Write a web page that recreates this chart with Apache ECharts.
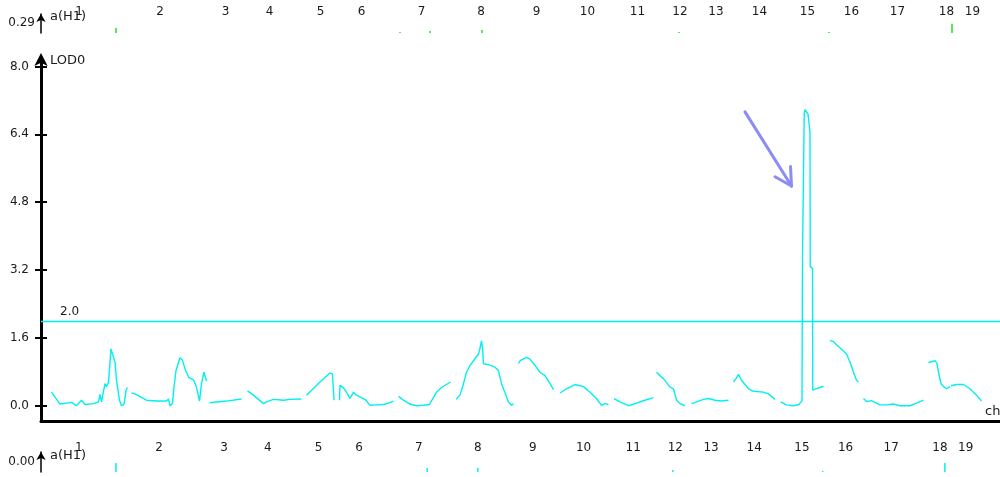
<!DOCTYPE html>
<html><head><meta charset="utf-8">
<script src="https://cdn.jsdelivr.net/npm/echarts@6/dist/echarts.min.js"></script>
<style>html,body{margin:0;padding:0;background:#fff}#c{width:1000px;height:477px}</style>
</head><body><div id="c"></div>
<script>
// ---- data (positions in cM along the genome, LOD values) ----
const chrNames = ['1','2','3','4','5','6','7','8','9','10','11','12','13','14','15','16','17','18','19'];
const chrLabelPos = [76,238,369,457,559,641,761,880,991,1093,1193,1278,1350,1437,1533,1621,1713,1811,1863];
const lodTicks = [0, 1.6, 3.2, 4.8, 6.4, 8.0];
const threshold = 2.0;

const lod_chr1 = [[21,0.32],[38,0.04],[61,0.08],[71,0.0],[81,0.13],[88,0.03],[105,0.05],[115,0.09],[118,0.27],[121,0.09],[128,0.52],[131,0.45],[135,0.55],[140,1.34],[143,1.30],[148,1.03],[151,0.60],[157,0.13],[161,0.0],[166,0.03],[170,0.36],[173,0.43]];
const lod_chr2 = [[181,0.30],[188,0.28],[211,0.13],[231,0.11],[251,0.11],[255,0.16],[258,0.0],[263,0.06],[266,0.44],[270,0.83],[278,1.13],[283,1.07],[288,0.87],[295,0.67],[299,0.68],[305,0.61],[311,0.44],[317,0.11],[321,0.52],[326,0.79],[329,0.75],[331,0.58]];
const lod_chr3 = [[337,0.07],[371,0.11],[401,0.16]];
const lod_chr4 = [[413,0.35],[425,0.25],[445,0.05],[451,0.09],[465,0.15],[485,0.13],[498,0.15],[521,0.16]];
const lod_chr5 = [[531,0.25],[558,0.56],[578,0.77],[583,0.75],[586,0.13]];
const lod_chr6 = [[597,0.13],[598,0.48],[605,0.42],[611,0.32],[618,0.17],[625,0.32],[631,0.25],[641,0.19],[645,0.19],[650,0.13],[658,0.01],[671,0.02],[685,0.03],[695,0.06],[705,0.11]];
const lod_chr7 = [[715,0.22],[725,0.13],[738,0.04],[751,0.0],[765,0.01],[777,0.03],[778,0.06],[791,0.32],[801,0.43],[819,0.56]];
const lod_chr8 = [[830,0.15],[838,0.25],[845,0.52],[851,0.79],[858,0.95],[865,1.06],[875,1.22],[877,1.30],[881,1.53],[883,1.37],[885,0.99],[895,0.97],[908,0.91],[915,0.83],[921,0.52],[930,0.25],[935,0.09],[941,0.01],[945,0.05]];
const lod_chr9 = [[955,1.0],[959,1.07],[971,1.14],[978,1.10],[988,0.95],[998,0.79],[1008,0.71],[1018,0.52],[1025,0.38]];
const lod_chr10 = [[1038,0.30],[1051,0.40],[1068,0.50],[1085,0.45],[1098,0.32],[1111,0.17],[1121,0.01],[1128,0.05],[1135,0.03]];
const lod_chr11 = [[1146,0.17],[1158,0.09],[1175,0.0],[1191,0.06],[1208,0.13],[1225,0.19]];
const lod_chr12 = [[1231,0.79],[1238,0.71],[1245,0.64],[1248,0.60],[1258,0.44],[1265,0.40],[1271,0.13],[1278,0.05],[1288,0.0]];
const lod_chr13 = [[1301,0.05],[1311,0.09],[1325,0.15],[1335,0.17],[1348,0.13],[1361,0.11],[1375,0.13]];
const lod_chr14 = [[1385,0.56],[1390,0.64],[1395,0.74],[1401,0.60],[1415,0.40],[1425,0.34],[1445,0.32],[1455,0.28],[1468,0.15]];
const lod_chr15 = [[1479,0.09],[1491,0.02],[1505,0.0],[1516,0.03],[1522,0.12],[1523,3.56],[1526,3.58],[1526.5,6.90],[1528,6.98],[1530,6.97],[1534,6.88],[1538,6.45],[1538.5,3.28],[1543,3.24],[1543.5,0.37],[1548,0.39],[1565,0.46]];
const lod_chr16 = [[1578,1.54],[1585,1.51],[1591,1.44],[1601,1.33],[1611,1.22],[1618,1.03],[1625,0.79],[1631,0.60],[1635,0.56]];
const lod_chr17 = [[1645,0.17],[1651,0.10],[1661,0.12],[1678,0.02],[1691,0.02],[1705,0.04],[1718,0.0],[1738,0.0],[1751,0.06],[1765,0.13]];
const lod_chr18 = [[1775,1.02],[1788,1.06],[1792,1.0],[1795,0.79],[1800,0.52],[1805,0.45],[1811,0.40],[1818,0.45]];
const lod_chr19 = [[1820,0.47],[1831,0.50],[1845,0.50],[1858,0.40],[1871,0.25],[1881,0.11]];

// additive effect strip a(H1) marks: [position, low, high]
const topEffectMarks = [[150,0,0.15],[718,0,0.03],[778,0,0.06],[882,0,0.09],[1276,0,0.03],[1576,0,0.03],[1822,0,0.27]];
const bottomEffectMarks = [[151,-0.3,-0.03],[778,-0.3,-0.18],[880,-0.3,-0.18],[1273,-0.3,-0.24],[1575,-0.3,-0.27],[1821,-0.3,-0.03]];

// annotation arrow pointing to the chr15 peak (data coordinates)
const arrowTail = [1408, 6.93];
const arrowTip = [1501, 5.18];
const arrowArmA = [1468, 5.40];
const arrowArmB = [1499, 5.64];

// ---- build ----
const lodByChr = [lod_chr1,lod_chr2,lod_chr3,lod_chr4,lod_chr5,lod_chr6,lod_chr7,lod_chr8,lod_chr9,lod_chr10,lod_chr11,lod_chr12,lod_chr13,lod_chr14,lod_chr15,lod_chr16,lod_chr17,lod_chr18,lod_chr19];
const curve = [];
lodByChr.forEach(seg => { seg.forEach(p => curve.push(p)); curve.push([seg[seg.length-1][0], '-']); });
function marksToLine(marks){ const d=[]; marks.forEach(m=>{d.push([m[0],m[1]]);d.push([m[0],m[2]]);d.push([m[0],'-']);}); return d; }

const XMAX = 1918;
const FONT = 'DejaVu Sans';
const TXT = '#1a1a1a';
const chrFmt = v => { const i = chrLabelPos.indexOf(v); return i >= 0 ? chrNames[i] : ''; };

const chart = echarts.init(document.getElementById('c'), null, {renderer:'canvas'});
chart.setOption({
  animation: false,
  backgroundColor: '#fff',
  grid: [
    {left: 41, right: 0, top: 14, height: 19, outerBoundsMode:'none', containLabel:false},
    {left: 41, right: 0, top: 58, bottom: 56, outerBoundsMode:'none', containLabel:false},
    {left: 41, right: 7, top: 452, height: 20, outerBoundsMode:'none', containLabel:false}
  ],
  xAxis: [
    {gridIndex:0, type:'value', min:0, max:XMAX, position:'top', offset:-6,
     axisLine:{show:false}, axisTick:{show:false}, splitLine:{show:false},
     axisLabel:{customValues: chrLabelPos, formatter: chrFmt, margin:2, color:TXT, fontFamily:FONT, fontSize:12}},
    {gridIndex:1, type:'value', min:0, max:XMAX,
     axisLine:{show:true, onZero:false, lineStyle:{color:'#000', width:3}}, axisTick:{show:false}, axisLabel:{show:false}, splitLine:{show:false},
     name:'chr', nameLocation:'end', nameGap:-15, nameMoveOverlap:false,
     nameTextStyle:{align:'left', verticalAlign:'bottom', padding:[0,0,3,0], color:TXT, fontFamily:FONT, fontSize:13}},
    {gridIndex:2, type:'value', min:0, max:XMAX, position:'top', offset:-6,
     axisLine:{show:false}, axisTick:{show:false}, splitLine:{show:false},
     axisLabel:{customValues: chrLabelPos, formatter: chrFmt, margin:4, color:TXT, fontFamily:FONT, fontSize:12}}
  ],
  yAxis: [
    {gridIndex:0, type:'value', min:0, max:0.56,
     axisLine:{show:true, symbol:['none','arrow'], symbolSize:[7,8], symbolOffset:[0,0], lineStyle:{color:'#000', width:1.5}},
     axisTick:{show:false}, splitLine:{show:false},
     axisLabel:{customValues:[0.29], formatter: v => v.toFixed(2), margin:6, color:TXT, fontFamily:FONT, fontSize:12},
     name:'a(H1)', nameLocation:'end', nameGap:-3, nameMoveOverlap:false,
     nameTextStyle:{align:'left', verticalAlign:'middle', padding:[0,0,0,9], color:TXT, fontFamily:FONT, fontSize:13}},
    {gridIndex:1, type:'value', min:-0.36, max:8.2,
     axisLine:{show:true, symbol:['none','arrow'], symbolSize:[10,13], symbolOffset:[0,5], lineStyle:{color:'#000', width:3}},
     axisTick:{show:true, customValues: lodTicks, length:6, lineStyle:{color:'#000', width:2}},
     splitLine:{show:false},
     axisLabel:{customValues: lodTicks, formatter: v => v.toFixed(1), margin:12, color:TXT, fontFamily:FONT, fontSize:12},
     name:'LOD0', nameLocation:'end', nameGap:-2.5, nameMoveOverlap:false,
     nameTextStyle:{align:'left', verticalAlign:'middle', padding:[0,0,0,9], color:TXT, fontFamily:FONT, fontSize:13}},
    {gridIndex:1, type:'value', min:-0.36, max:8.2, position:'left',
     axisLine:{show:false},
     axisTick:{show:true, inside:true, customValues: lodTicks, length:6, lineStyle:{color:'#000', width:2}},
     axisLabel:{show:false}, splitLine:{show:false}},
    {gridIndex:2, type:'value', min:-0.3, max:0.3,
     axisLine:{show:true, symbol:['none','arrow'], symbolSize:[7,8], lineStyle:{color:'#000', width:1.5}},
     axisTick:{show:false}, splitLine:{show:false},
     axisLabel:{customValues:[0], formatter: v => v.toFixed(2), margin:6, color:TXT, fontFamily:FONT, fontSize:12},
     name:'a(H1)', nameLocation:'end', nameGap:-4, nameMoveOverlap:false,
     nameTextStyle:{align:'left', verticalAlign:'middle', padding:[0,0,0,9], color:TXT, fontFamily:FONT, fontSize:13}}
  ],
  series: [
    {type:'line', xAxisIndex:1, yAxisIndex:1, data: curve, showSymbol:false, symbol:'none',
     connectNulls:false, lineStyle:{color:'#00f0f0', width:1.4}, itemStyle:{color:'#00f0f0'},
     markLine:{silent:true, symbol:['none','none'], animation:false,
       data:[
         {yAxis: threshold, lineStyle:{color:'#00f0f0', width:1.3, type:'solid'},
          label:{show:true, position:'insideStartTop', distance:[19,3], formatter:'2.0', color:TXT, fontFamily:FONT, fontSize:12}},
         [{coord: arrowTail, lineStyle:{color:'#8c8cf5', width:3, type:'solid', cap:'round'}, label:{show:false}}, {coord: arrowTip}],
         [{coord: arrowArmA, lineStyle:{color:'#8c8cf5', width:3, type:'solid', cap:'round'}, label:{show:false}}, {coord: arrowTip}],
         [{coord: arrowArmB, lineStyle:{color:'#8c8cf5', width:3, type:'solid', cap:'round'}, label:{show:false}}, {coord: arrowTip}]
       ]}},
    {type:'line', xAxisIndex:0, yAxisIndex:0, data: marksToLine(topEffectMarks), showSymbol:false, symbol:'none',
     connectNulls:false, lineStyle:{color:'#22e022', width:1.5}},
    {type:'line', xAxisIndex:2, yAxisIndex:3, data: marksToLine(bottomEffectMarks), showSymbol:false, symbol:'none',
     connectNulls:false, lineStyle:{color:'#00f0f0', width:1.5}}
  ]
});
</script></body></html>
